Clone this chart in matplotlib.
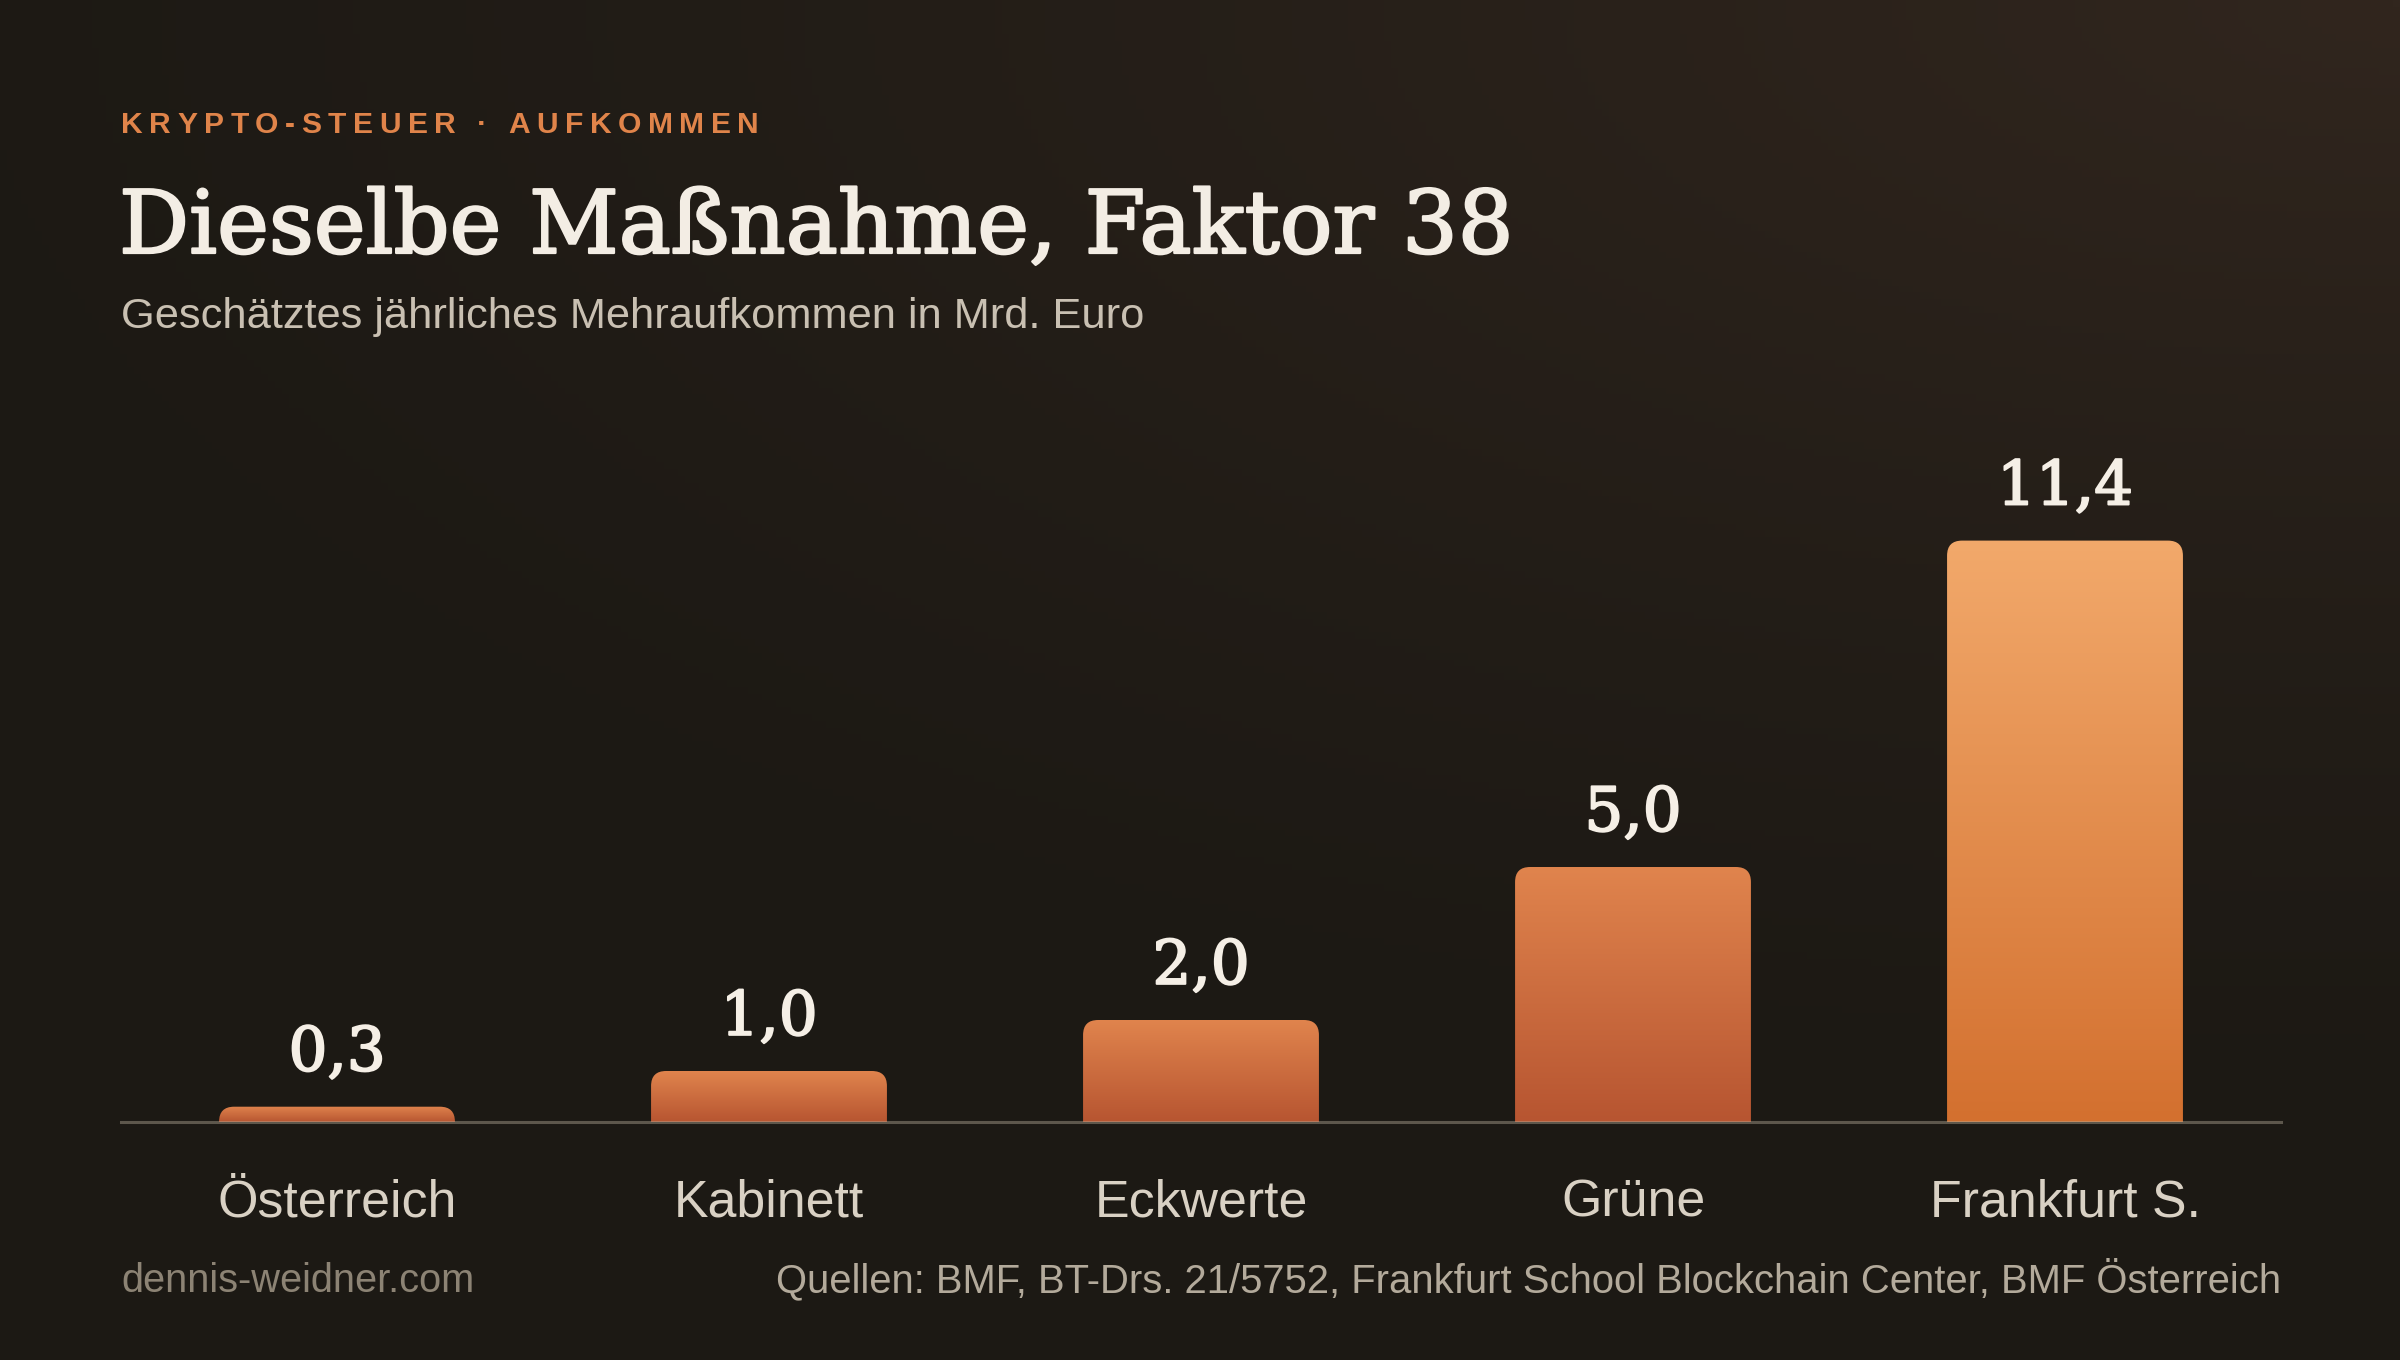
import numpy as np
import matplotlib
matplotlib.use('Agg')
import matplotlib.pyplot as plt
import matplotlib.patheffects as pe
from matplotlib.patches import FancyBboxPatch
from matplotlib.colors import LinearSegmentedColormap

# data
categories = ['Österreich', 'Kabinett', 'Eckwerte', 'Grüne', 'Frankfurt S.']
values = [0.3, 1.0, 2.0, 5.0, 11.4]

kicker = 'KRYPTO-STEUER · AUFKOMMEN'
title = 'Dieselbe Maßnahme, Faktor 38'
subtitle = 'Geschätztes jährliches Mehraufkommen in Mrd. Euro'
footer_left = 'dennis-weidner.com'
footer_right = 'Quellen: BMF, BT-Drs. 21/5752, Frankfurt School Blockchain Center, BMF Österreich'

W, H = 2400, 1360
DPI = 200
SANS = ['Liberation Sans', 'DejaVu Sans']
SERIF = ['DejaVu Serif']

fig = plt.figure(figsize=(W / DPI, H / DPI), dpi=DPI)


def fx(px):
    return px / W


def fy(py):
    return 1 - py / H


# background gradient: warm glow top right, dark bottom left
bg = fig.add_axes([0, 0, 1, 1], zorder=-10)
yy, xx = np.mgrid[0:1:200j, 0:1:340j]
glow = np.clip(1 - np.sqrt((1 - xx) ** 2 * 0.8 + (yy) ** 2 * 1.4), 0, 1)
c_dark = np.array([0x1c, 0x19, 0x14]) / 255
c_light = np.array([0x31, 0x26, 0x1e]) / 255
img = c_dark + (c_light - c_dark) * glow[..., None] ** 1.3
bg.imshow(img, extent=[0, 1, 0, 1], origin='upper', aspect='auto')
bg.set_axis_off()

# main axes
ax_left, ax_right = 121, 2281
ax_base = 1122
ymax = 13.0
px_per_unit = 51.0
ax_top = ax_base - ymax * px_per_unit
ax = fig.add_axes([fx(ax_left), fy(ax_base), fx(ax_right - ax_left), (ax_base - ax_top) / H])
ax.set_facecolor('none')
for s in ax.spines.values():
    s.set_visible(False)
ax.set_xticks([])
ax.set_yticks([])

x = np.arange(len(categories))
bar_w = 0.546
bars = ax.bar(x, values, width=bar_w, color='none')
ax.set_xlim(-0.5, len(categories) - 0.5)
ax.set_ylim(0, ymax)

# rounded gradient bars
bb = ax.get_window_extent()
x_per_px = (len(categories)) / bb.width
y_per_px = ymax / bb.height
r_px = 15
normal_cmap = LinearSegmentedColormap.from_list('n', ['#b75531', '#e0844d'])
top_cmap = LinearSegmentedColormap.from_list('t', ['#d3702f', '#f2a96b'])
grad = np.linspace(0, 1, 256).reshape(-1, 1)
for i, rect in enumerate(bars):
    x0 = rect.get_x()
    w = rect.get_width()
    h = rect.get_height()
    r_y = r_px * y_per_px
    patch = FancyBboxPatch((x0, -r_y), w, h + r_y,
                           boxstyle='round,pad=0,rounding_size=%f' % (r_px * x_per_px),
                           mutation_aspect=y_per_px / x_per_px,
                           facecolor='none', edgecolor='none')
    ax.add_patch(patch)
    cmap = top_cmap if i == len(categories) - 1 else normal_cmap
    im = ax.imshow(grad, cmap=cmap, extent=[x0, x0 + w, 0, h], origin='lower',
                   aspect='auto', zorder=2)
    im.set_clip_path(patch)

ax.set_xlim(-0.5, len(categories) - 0.5)
ax.set_ylim(0, ymax)

ax.axhline(0, color='#b8ad9a', alpha=0.42, lw=1.1, zorder=5, clip_on=False)

# value labels and categories
for i, v in enumerate(values):
    ax.annotate(f'{v:.1f}'.replace('.', ','), (i, v), xytext=(0, 13), textcoords='offset points',
                ha='center', va='baseline', fontsize=22, color='#f5efe6', family=SERIF,
                path_effects=[pe.withStroke(linewidth=0.7, foreground='#f5efe6')])
    ax.annotate(categories[i], (i, 0), xytext=(0, -34), textcoords='offset points',
                ha='center', va='baseline', fontsize=18.7, color='#d9d1c4', family=SANS)

# header: letter-spaced kicker
fig.canvas.draw()
renderer = fig.canvas.get_renderer()
probe = fig.text(0, 0, 'a a', fontsize=10.8, fontweight='bold', family=SANS)
probe2 = fig.text(0, 0, 'aa', fontsize=10.8, fontweight='bold', family=SANS)
space_w = probe.get_window_extent(renderer).width - probe2.get_window_extent(renderer).width
probe.remove()
probe2.remove()
cx = 121
for ch in kicker:
    t = fig.text(fx(cx), fy(133), ch, fontsize=10.8, fontweight='bold', color='#e0844a',
                 family=SANS, va='baseline', ha='left')
    wpx = space_w if ch == ' ' else t.get_window_extent(renderer).width
    cx += wpx + 6.5

fig.text(fx(119), fy(253), title, fontsize=31.5, color='#f3ede4', family=SERIF,
         va='baseline', ha='left',
         path_effects=[pe.withStroke(linewidth=0.8, foreground='#f3ede4')])
fig.text(fx(121), fy(328), subtitle, fontsize=15.6, color='#c9c0b2', family=SANS,
         va='baseline', ha='left')

# footer
fig.text(fx(121), fy(1292), footer_left, fontsize=14.3, color='#8c8374', family=SANS,
         va='baseline', ha='left')
fig.text(fx(2281), fy(1292), footer_right, fontsize=14.4, color='#b3aa9b', family=SANS,
         va='baseline', ha='right')

fig.savefig('out.png', dpi=DPI)
